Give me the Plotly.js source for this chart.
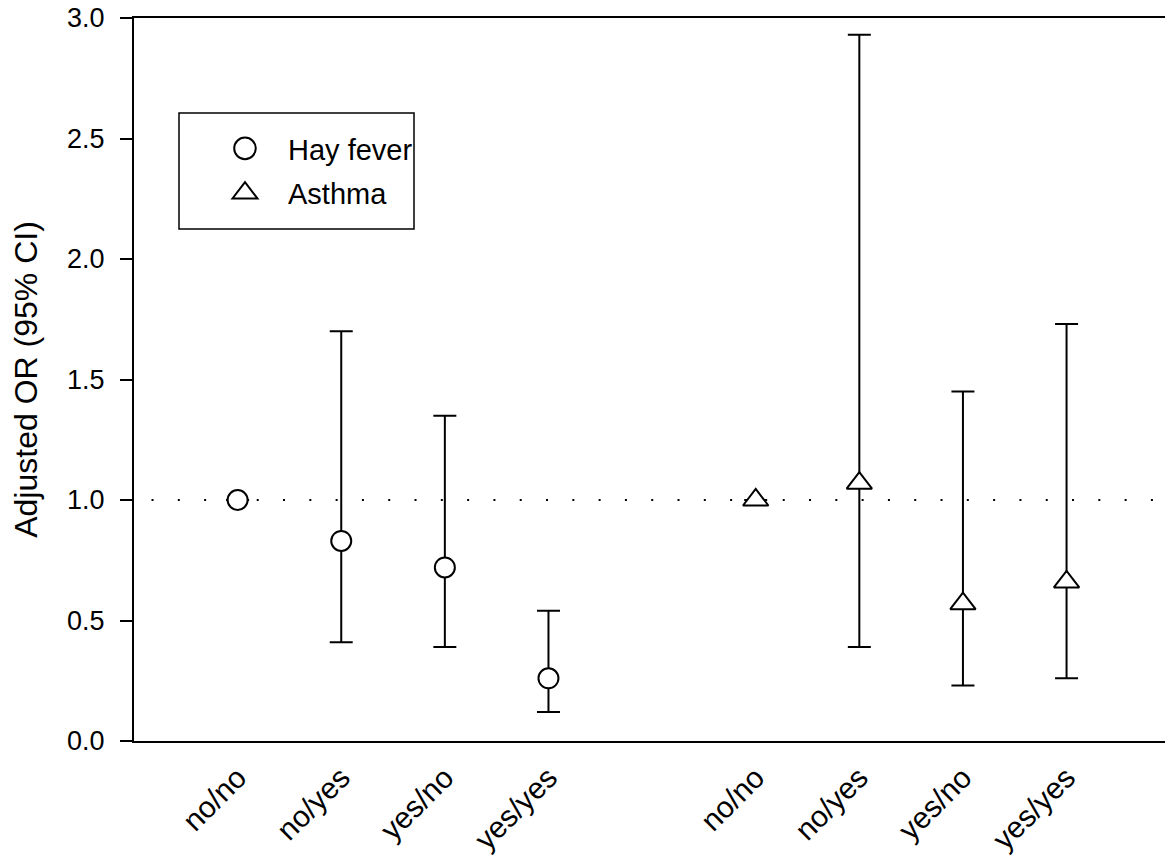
<!DOCTYPE html>
<html>
<head>
<meta charset="utf-8">
<script src="https://cdn.plot.ly/plotly-3.0.1.min.js"></script>
<style>html,body{margin:0;padding:0;background:#fff;}#chart{width:1165px;height:857px;}</style>
</head>
<body>
<div id="chart"></div>
<script>
// Data
const categories = ["no/no", "no/yes", "yes/no", "yes/yes"];
const hayPos = [1, 2, 3, 4];
const asthmaPos = [6, 7, 8, 9];
const hayOR = [1.0, 0.83, 0.72, 0.26];
const hayLower = [null, 0.41, 0.39, 0.12];
const hayUpper = [null, 1.70, 1.35, 0.54];
const asthmaOR = [1.0, 1.07, 0.57, 0.66];
const asthmaLower = [null, 0.39, 0.23, 0.26];
const asthmaUpper = [null, 2.93, 1.45, 1.73];
const yTicks = [0, 0.5, 1.0, 1.5, 2.0, 2.5, 3.0];
const referenceOR = 1.0;

const plus = (v, u) => v.map((x, i) => u[i] == null ? null : u[i] - x);
const minus = (v, l) => v.map((x, i) => l[i] == null ? null : x - l[i]);

const FONT = "Liberation Sans, Arial, Helvetica, sans-serif";

const errStyle = {type: 'data', symmetric: false, color: '#000', thickness: 2, width: 11.5};

const traces = [
  {
    x: hayPos, y: hayOR, name: 'Hay fever', mode: 'markers', type: 'scatter', legendgroup: 'hay',
    marker: {symbol: 'circle', size: 20, color: '#fff', line: {color: '#000', width: 2}},
    error_y: Object.assign({array: plus(hayOR, hayUpper), arrayminus: minus(hayOR, hayLower)}, errStyle),
    cliponaxis: false
  },
  {
    x: asthmaPos, y: asthmaOR, name: 'Asthma', mode: 'markers', type: 'scatter', legendgroup: 'asthma',
    marker: {symbol: 'triangle-up', size: 22, color: '#fff', line: {color: '#000', width: 2}},
    error_y: Object.assign({array: plus(asthmaOR, asthmaUpper), arrayminus: minus(asthmaOR, asthmaLower)}, errStyle),
    cliponaxis: false
  }
];

const layout = {
  width: 1165, height: 857,
  margin: {l: 134, r: 0, t: 18, b: 116},
  paper_bgcolor: '#fff', plot_bgcolor: '#fff',
  font: {family: FONT, size: 28, color: '#000'},
  showlegend: true,
  legend: {
    x: (202 - 134) / 1031, y: (741 - 123) / 723, xanchor: 'left', yanchor: 'top',
    borderwidth: 0, bgcolor: 'rgba(0,0,0,0)',
    font: {family: FONT, size: 29, color: '#000'},
    itemwidth: 76, traceorder: 'grouped', tracegroupgap: 4
  },
  xaxis: {
    range: [0, 9.95],
    showgrid: false, zeroline: false,
    showline: true, linecolor: '#000', linewidth: 2, mirror: true,
    tickvals: hayPos.concat(asthmaPos),
    ticktext: categories.concat(categories),
    tickangle: -45,
    ticks: 'outside', ticklen: 5, tickcolor: 'rgba(0,0,0,0)',
    tickfont: {family: FONT, size: 30, color: '#000'}
  },
  yaxis: {
    range: [0, 3.0],
    showgrid: false, zeroline: false,
    showline: true, linecolor: '#000', linewidth: 2,
    tickvals: yTicks,
    tickformat: '.1f',
    ticks: 'outside', ticklen: 12, tickwidth: 2, tickcolor: '#000',
    ticklabelstandoff: 10,
    tickfont: {family: FONT, size: 27, color: '#000'},
    title: {text: 'Adjusted OR (95% CI)', font: {family: FONT, size: 32, color: '#000'}, standoff: 20}
  },
  shapes: [
    {type: 'line', xref: 'paper', yref: 'y', x0: 0.017, x1: 1, y0: referenceOR, y1: referenceOR,
     line: {color: '#000', width: 2, dash: '2px,24.3px'}, layer: 'below'},
    {type: 'rect', xref: 'paper', yref: 'paper',
     x0: (179 - 134) / 1031, x1: (414 - 134) / 1031, y0: (741 - 229) / 723, y1: (741 - 113) / 723,
     line: {color: '#000', width: 1.5}, fillcolor: 'rgba(0,0,0,0)', layer: 'above'}
  ]
};

Plotly.newPlot('chart', traces, layout, {displayModeBar: false, staticPlot: true}).then(function (gd) {
  // enlarge legend symbols to match plot marker size (Plotly caps them at 16px)
  const k = 1.35;
  gd.querySelectorAll('.legend .legendpoints path.scatterpts').forEach(function (p) {
    const t = p.getAttribute('transform') || '';
    p.setAttribute('transform', t + ' scale(' + k + ')');
    p.style.strokeWidth = (2 / k) + 'px';
  });
});
</script>
</body>
</html>
